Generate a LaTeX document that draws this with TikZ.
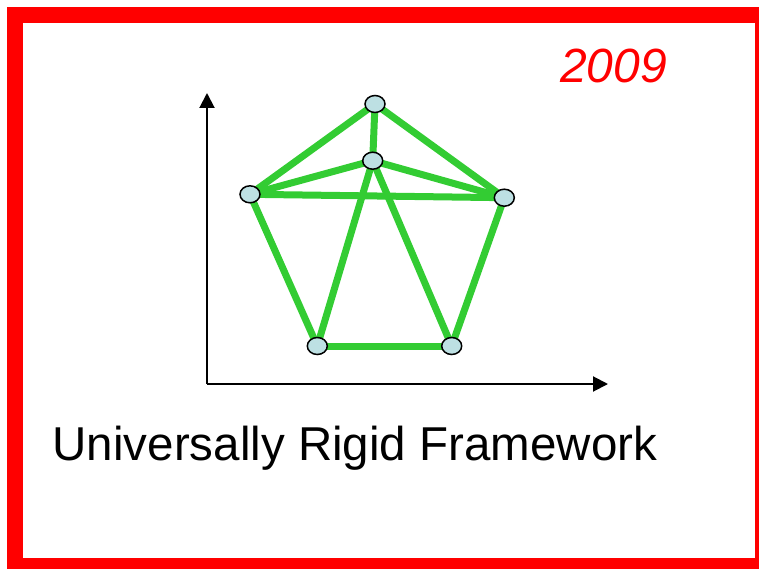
\documentclass[tikz,border=0pt]{standalone}
\usepackage{fontspec}
\setmainfont{Liberation Sans}
\usetikzlibrary{arrows.meta,shapes.geometric,backgrounds}
\definecolor{edgegreen}{HTML}{33CC33}
\definecolor{jointfill}{HTML}{BDE0E3}
\begin{document}
\begin{tikzpicture}[x=1pt,y=-1pt,
  joint/.style={ellipse,draw=black,line width=1.5pt,fill=jointfill,minimum width=20pt,minimum height=17pt,inner sep=0pt},
  bar/.style={edgegreen,line width=7pt},
  axis/.style={black,line width=2pt,-{Triangle[length=15pt,width=15pt]}}]
\useasboundingbox (0,0) rectangle (759,569);
\draw[red,line width=16pt] (15,15) rectangle (763,566);
% axes
\coordinate (o) at (207,384);
\coordinate (ytop) at (207,93);
\coordinate (xend) at (608,384);
\draw[axis] (o) -- (ytop);
\draw[axis] (o) -- (xend);
% joints
\node[joint] (t) at (375,104) {};
\node[joint] (m) at (372.7,160.7) {};
\node[joint] (l) at (250,194.3) {};
\node[joint] (r) at (504.3,197.7) {};
\node[joint] (bl) at (317.3,346) {};
\node[joint] (br) at (451.7,346) {};
\begin{pgfonlayer}{background}
\draw[bar] (t.center) -- (l.center);
\draw[bar] (t.center) -- (r.center);
\draw[bar] (t.center) -- (m.center);
\draw[bar] (m.center) -- (l.center);
\draw[bar] (m.center) -- (r.center);
\draw[bar] (l.center) -- (r.center);
\draw[bar] (l.center) -- (bl.center);
\draw[bar] (r.center) -- (br.center);
\draw[bar] (m.center) -- (bl.center);
\draw[bar] (m.center) -- (br.center);
\draw[bar] (bl.center) -- (br.center);
\end{pgfonlayer}
% texts
\node[anchor=base west,inner sep=0pt,font=\fontsize{47.5}{50}\selectfont] (title) at (52.5,460) {Universally Rigid Framework};
\node[anchor=base west,inner sep=0pt,text=red,font=\fontsize{48}{50}\selectfont\itshape] (year) at (560,82.7) {2009};
\end{tikzpicture}
\end{document}
